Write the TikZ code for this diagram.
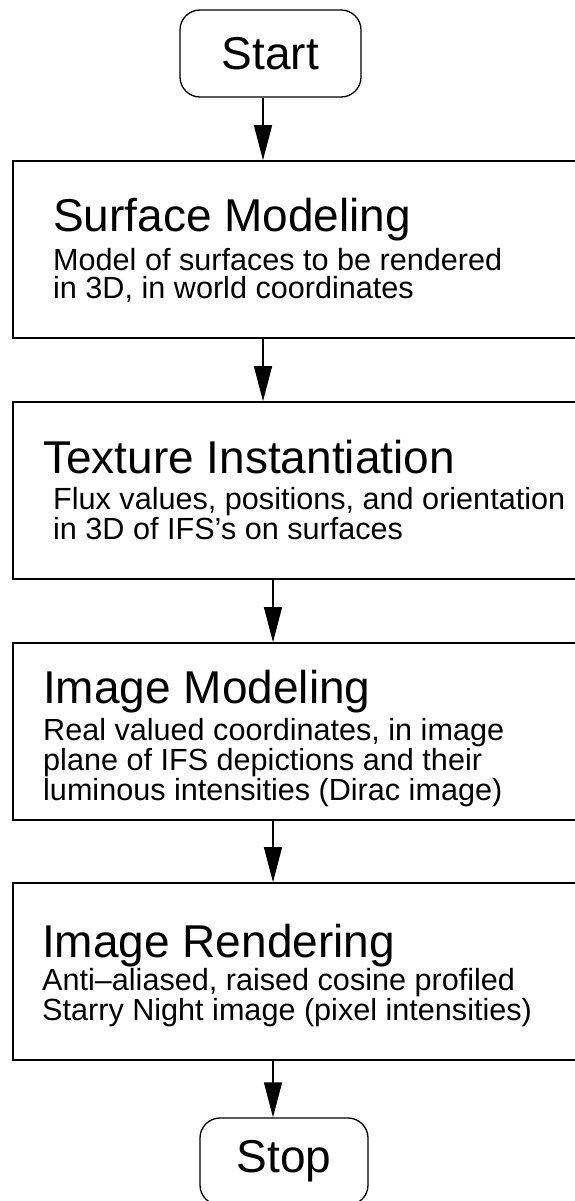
\documentclass[tikz,border=0pt]{standalone}
\usepackage{fontspec}
\setmainfont{Liberation Sans}
\usetikzlibrary{positioning}
\usetikzlibrary{arrows.meta}

\begin{document}
\begin{tikzpicture}[x=1pt,y=1pt,
   stage/.style={draw,line width=1.6pt,minimum width=569pt,minimum height=177pt,inner sep=0pt},
   term/.style={draw,line width=1.3pt,rounded corners=20pt,minimum height=87pt,font=\fontsize{46}{50}\selectfont},
   head/.style={anchor=base west,inner sep=0pt,font=\fontsize{46}{50}\selectfont},
   desc/.style={anchor=base west,inner sep=0pt,align=left,font=\fontsize{30.6}{28}\selectfont},
   flow/.style={-{Triangle[length=35pt,width=18pt]},line width=1.3pt}]
   \useasboundingbox (0,0) rectangle (574,-1201);
   % terminals and stages
   \node[term,minimum width=181pt] (start) at (270.5,-53.5) {Start};
   \node[stage] (surf)   at (297.5,-249.5) {};
   \node[stage] (tex)    at (297.5,-490.5) {};
   \node[stage] (imgmod) at (297.5,-731.5) {};
   \node[stage] (imgren) at (297.5,-971.5) {};
   \node[term,minimum width=168pt] (stop) at (284,-1161.5) {Stop};
   % texts (desc nodes sit on the baseline of their last line)
   \node[head] (surfh) at (53,-231) {Surface Modeling};
   \node[desc] (surfd) at (53,-298) {Model of surfaces to be rendered\\in 3D, in world coordinates};
   \node[head] (texh) at (43,-473) {Texture Instantiation};
   \node[desc] (texd) at (53,-539) {Flux values, positions, and orientation\\in 3D of IFS's on surfaces};
   \node[head] (imgmodh) at (43,-703) {Image Modeling};
   \node[desc] (imgmodd) at (43,-800) {Real valued coordinates, in image\\plane of IFS depictions and their\\luminous intensities (Dirac image)};
   \node[head] (imgrenh) at (42,-957) {Image Rendering};
   \node[desc] (imgrend) at (42,-1020) {Anti--aliased, raised cosine profiled\\Starry Night image (pixel intensities)};
   % arrows
   \coordinate (colA) at (263,0);
   \coordinate (colB) at (273,0);
   \draw[flow] (start.south -| colA) -- (surf.north -| colA);
   \draw[flow] (surf.south -| colA) -- (tex.north -| colA);
   \draw[flow] (tex.south -| colB) -- (imgmod.north -| colB);
   \draw[flow] (imgmod.south -| colB) -- (imgren.north -| colB);
   \draw[flow] (imgren.south -| colB) -- (stop.north -| colB);
\end{tikzpicture}
\end{document}
